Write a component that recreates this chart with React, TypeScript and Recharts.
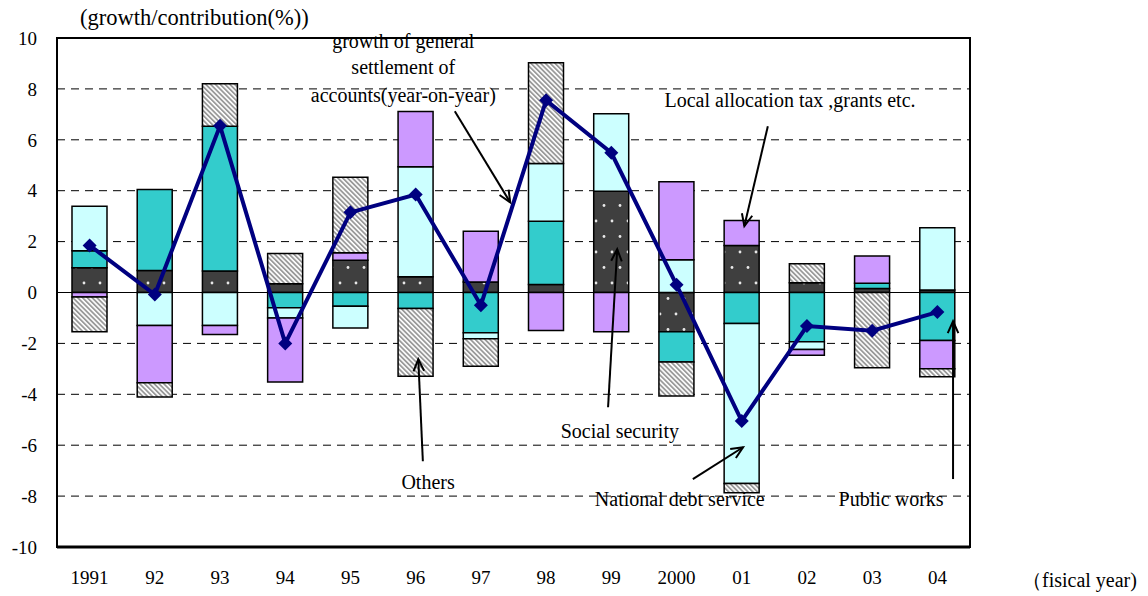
import { ComposedChart, Bar, Line, XAxis, YAxis, CartesianGrid, ReferenceLine, ReferenceArea, ReferenceDot } from 'recharts';

const years = ['1991', '92', '93', '94', '95', '96', '97', '98', '99', '2000', '01', '02', '03', '04'];
const socialSecurity = [0.97, 0.86, 0.84, 0.34, 1.27, 0.62, 0.41, 0.31, 3.98, -1.54, 1.85, 0.38, 0.16, 0.1];
const publicWorks = [0.67, 3.19, 5.69, -0.6, -0.54, -0.63, -1.58, 2.49, 0, -1.19, -1.22, -1.94, 0.2, -1.89];
const debtService = [1.75, -1.3, -1.3, -0.4, -0.85, 4.32, -0.24, 2.27, 3.04, 1.29, -6.28, -0.3, 0, 2.44];
const localAllocation = [-0.18, -2.25, -0.35, -2.52, 0.29, 2.17, 2.0, -1.49, -1.54, 3.06, 0.98, -0.23, 1.07, -1.11];
const others = [-1.36, -0.56, 1.67, 1.19, 2.97, -2.66, -1.08, 3.96, 0, -1.34, -0.37, 0.75, -2.96, -0.31];
const growth = [1.85, -0.08, 6.55, -2.0, 3.15, 3.85, -0.5, 7.55, 5.49, 0.3, -5.05, -1.32, -1.5, -0.77];
const yTicks = [-10, -8, -6, -4, -2, 0, 2, 4, 6, 8, 10];

// annotation texts, placed on the hidden numeric x axis (0..14) and the value axis
const notes = [
  { text: 'growth of general', x: 5.31, y: 9.87 },
  { text: 'settlement of', x: 5.31, y: 8.85 },
  { text: 'accounts(year-on-year)', x: 5.31, y: 7.75 },
  { text: 'Local allocation tax ,grants etc.', x: 11.24, y: 7.55 },
  { text: 'Social security', x: 8.63, y: -5.45 },
  { text: 'Others', x: 5.69, y: -7.45 },
  { text: 'National debt service', x: 9.55, y: -8.12 },
  { text: 'Public works', x: 12.79, y: -8.12 }
];

// arrows: from tail to head
const arrows = [
  { x1: 6.1, y1: 7.12, x2: 6.95, y2: 3.54 },
  { x1: 10.9, y1: 6.53, x2: 10.54, y2: 2.61 },
  { x1: 8.45, y1: -4.51, x2: 8.59, y2: 1.7 },
  { x1: 5.61, y1: -6.63, x2: 5.54, y2: -2.62 },
  { x1: 9.75, y1: -7.33, x2: 10.52, y2: -6.08 },
  { x1: 13.74, y1: -7.33, x2: 13.74, y2: -1.13 }
];

const data = years.map((year, i) => ({
  year,
  pos: i + 0.5,
  ss: socialSecurity[i],
  pw: publicWorks[i],
  nds: debtService[i],
  lat: localAllocation[i],
  oth: others[i],
  growth: growth[i]
}));

const FONT = '"Liberation Serif", "Times New Roman", serif';

const Arrow = (p: any) => {
  const { x1, y1, x2, y2 } = p;
  const ang = Math.atan2(y2 - y1, x2 - x1);
  const len = 13;
  const spread = 0.42;
  const ax = x2 - len * Math.cos(ang - spread);
  const ay = y2 - len * Math.sin(ang - spread);
  const bx = x2 - len * Math.cos(ang + spread);
  const by = y2 - len * Math.sin(ang + spread);
  return (
    <g>
      <line x1={x1} y1={y1} x2={x2} y2={y2} stroke="#000" strokeWidth={2} />
      <polyline points={`${ax},${ay} ${x2},${y2} ${bx},${by}`} fill="none" stroke="#000" strokeWidth={2} />
    </g>
  );
};

const Diamond = (p: any) => {
  const { cx, cy } = p;
  if (cx == null || cy == null) return null;
  const s = 7;
  return (
    <polygon
      key={`d-${cx}`}
      points={`${cx},${cy - s} ${cx + s},${cy} ${cx},${cy + s} ${cx - s},${cy}`}
      fill="#000080"
    />
  );
};

const noteLabel = (text: string) => (props: any) => {
  const vb = props.viewBox || {};
  const x = vb.x + (vb.width || 0) / 2;
  const y = vb.y + (vb.height || 0) / 2;
  return (
    <text x={x} y={y} textAnchor="middle" dominantBaseline="central" fontFamily={FONT} fontSize={20} fill="#000">
      {text}
    </text>
  );
};

export default function App() {
  return (
    <div style={{ position: 'absolute', left: 0, top: 0, width: 1148, height: 596, background: '#fff', fontFamily: FONT }}>
      <div style={{ position: 'absolute', left: 80, top: 4, fontSize: 22.5, lineHeight: '28px', color: '#000' }}>
        (growth/contribution(%))
      </div>
      <div style={{ position: 'absolute', left: 1022, top: 566, fontSize: 20, lineHeight: '28px', color: '#000' }}>
        （fisical year)
      </div>
      <ComposedChart
        width={1148}
        height={596}
        data={data}
        stackOffset="sign"
        barCategoryGap="23%"
        margin={{ top: 38, right: 178, left: 0, bottom: 0 }}
      >
        <defs>
          <pattern id="dots" width="16" height="31" patternUnits="userSpaceOnUse">
            <rect width="16" height="31" fill="#3f3f3f" />
            <circle cx="4" cy="4" r="1.4" fill="#e8e8e8" />
            <circle cx="12" cy="19.5" r="1.4" fill="#e8e8e8" />
          </pattern>
          <pattern id="hatch" width="3.4" height="3.4" patternUnits="userSpaceOnUse" patternTransform="rotate(-45)">
            <rect width="3.4" height="3.4" fill="#fff" />
            <line x1="0.9" y1="0" x2="0.9" y2="3.4" stroke="#9a9a9a" strokeWidth="1.8" />
          </pattern>
        </defs>
        <CartesianGrid vertical={false} stroke="#000" strokeDasharray="8 6" />
        <XAxis
          xAxisId="cat"
          dataKey="year"
          height={49}
          tickLine={false}
          axisLine={{ stroke: '#000', strokeWidth: 3 }}
          tickMargin={18}
          tick={{ fontSize: 19, fill: '#000', fontFamily: FONT }}
          interval={0}
        />
        <XAxis xAxisId="num" dataKey="pos" type="number" domain={[0, 14]} hide allowDataOverflow />
        <YAxis
          width={57}
          domain={[-10, 10]}
          ticks={yTicks}
          tickLine={false}
          axisLine={false}
          tickMargin={14}
          tick={{ fontSize: 19, fill: '#000', fontFamily: FONT }}
        />
        <Bar xAxisId="cat" dataKey="ss" stackId="s" fill="url(#dots)" stroke="#000" strokeWidth={1.5} isAnimationActive={false} />
        <Bar xAxisId="cat" dataKey="pw" stackId="s" fill="#33cccc" stroke="#000" strokeWidth={1.5} isAnimationActive={false} />
        <Bar xAxisId="cat" dataKey="nds" stackId="s" fill="#ccffff" stroke="#000" strokeWidth={1.5} isAnimationActive={false} />
        <Bar xAxisId="cat" dataKey="lat" stackId="s" fill="#cc99ff" stroke="#000" strokeWidth={1.5} isAnimationActive={false} />
        <Bar xAxisId="cat" dataKey="oth" stackId="s" fill="url(#hatch)" stroke="#000" strokeWidth={1.5} isAnimationActive={false} />
        <ReferenceLine xAxisId="cat" y={0} stroke="#000" strokeWidth={1} />
        <Line
          xAxisId="cat"
          dataKey="growth"
          type="linear"
          stroke="#000080"
          strokeWidth={4}
          dot={Diamond}
          activeDot={false}
          isAnimationActive={false}
        />
        <ReferenceArea xAxisId="num" x1={0} x2={14} y1={-10} y2={10} fill="none" stroke="#000" strokeWidth={2} ifOverflow="visible" />
        {arrows.map((a, i) => (
          <ReferenceLine
            key={`a${i}`}
            xAxisId="num"
            segment={[{ x: a.x1, y: a.y1 }, { x: a.x2, y: a.y2 }]}
            shape={Arrow}
          />
        ))}
        {notes.map((n, i) => (
          <ReferenceDot
            key={`n${i}`}
            xAxisId="num"
            x={n.x}
            y={n.y}
            r={0}
            fill="none"
            stroke="none"
            ifOverflow="visible"
            label={noteLabel(n.text)}
          />
        ))}
      </ComposedChart>
    </div>
  );
}
